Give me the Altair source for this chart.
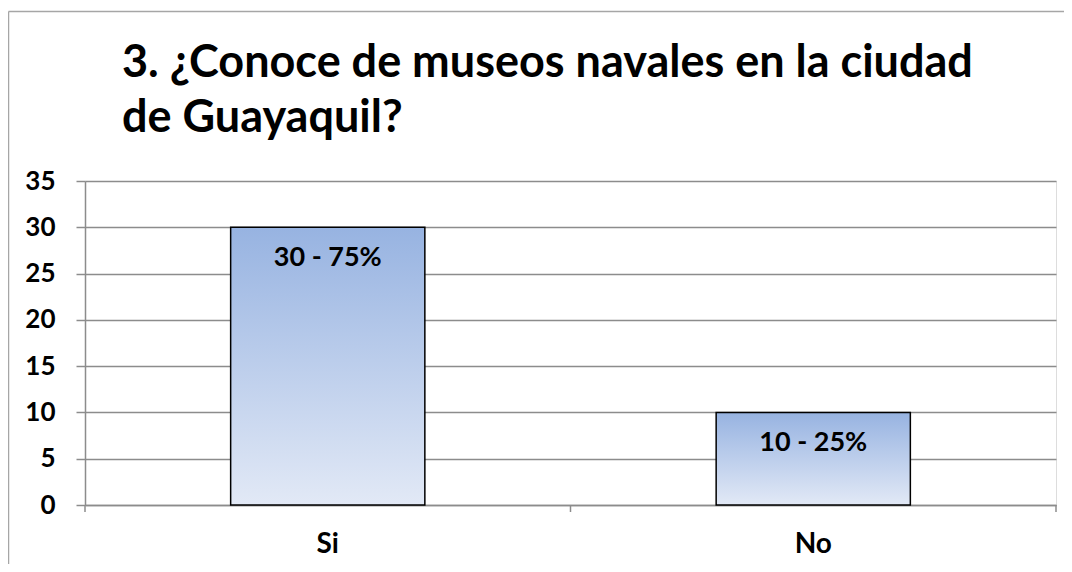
import altair as alt
import pandas as pd

categories = ["Si", "No"]
values = [30, 10]
labels = ["30 - 75%", "10 - 25%"]
title_lines = ["3. ¿Conoce de museos navales en la ciudad", "de Guayaquil?"]
y_ticks = [0, 5, 10, 15, 20, 25, 30, 35]
tick_positions = [0, 0.5, 1]

W, H = 971, 324
PAD = {"left": 77, "top": 173, "right": 8, "bottom": 59}

df = pd.DataFrame({"cat": categories, "val": values, "lab": labels})
GRAY = "#8c8c8c"
FONT = "Lato"

x_enc = alt.X("cat:N", sort=categories,
              scale=alt.Scale(paddingInner=0.6, paddingOuter=0.3),
              axis=alt.Axis(title=None, labelAngle=0, ticks=False, tickSize=0,
                            labelPadding=25, labelFont=FONT, labelFontSize=28,
                            labelFontWeight="bold", labelColor="black",
                            domainColor=GRAY, domainWidth=1.5, grid=False))
y_enc = alt.Y("val:Q", scale=alt.Scale(domain=[0, 35], nice=False),
              axis=alt.Axis(title=None, values=y_ticks, grid=True, gridColor=GRAY,
                            gridWidth=1.5, tickColor=GRAY, tickSize=9, tickWidth=1.5,
                            domainColor=GRAY, domainWidth=1.5, labelPadding=21,
                            labelFont=FONT, labelFontSize=26, labelFontWeight="bold",
                            labelColor="black"))

grad = alt.Gradient(gradient="linear",
                    stops=[alt.GradientStop(color="#97b3e1", offset=0),
                           alt.GradientStop(color="#e2e9f6", offset=1)],
                    x1=0, x2=0, y1=0, y2=1)

bars = alt.Chart(df).mark_bar(color=grad, stroke="black", strokeWidth=1.5).encode(
    x=x_enc, y=y_enc)

text = alt.Chart(df).mark_text(font=FONT, fontSize=27, fontWeight="bold",
                               color="black", baseline="middle", dy=31).encode(
    x=alt.X("cat:N", sort=categories), y="val:Q", text="lab:N")

main = alt.layer(bars, text)

ticks_df = pd.DataFrame({"p": tick_positions})
xticks = alt.Chart(ticks_df).mark_rule(color=GRAY, strokeWidth=1.5).encode(
    x=alt.X("p:Q", scale=alt.Scale(domain=[0, 1]), axis=None),
    y=alt.value(H), y2=alt.value(H + 7))

one = alt.Data(values=[{"a": 1}])
border_left = alt.Chart(one).mark_rule(color="#a6a6a6", strokeWidth=1.5).encode(
    x=alt.value(-76.5), y=alt.value(-169.5), y2=alt.value(H + PAD["bottom"]))
border_top = alt.Chart(one).mark_rule(color="#a6a6a6", strokeWidth=1.5).encode(
    x=alt.value(-76.5), x2=alt.value(W + PAD["right"]), y=alt.value(-169.5))

title_style = dict(font=FONT, fontSize=45, fontWeight="bold", color="black",
                   align="left", baseline="alphabetic")
title1 = alt.Chart(one).mark_text(**title_style).encode(
    x=alt.value(37), y=alt.value(-104), text=alt.value(title_lines[0]))
title2 = alt.Chart(one).mark_text(**title_style).encode(
    x=alt.value(37), y=alt.value(-49), text=alt.value(title_lines[1]))

chart = alt.layer(main, xticks, border_left, border_top, title1, title2).resolve_scale(
    x="independent").properties(
    width=W, height=H, padding=PAD,
    autosize=alt.AutoSizeParams(type="none"),
).configure_view(stroke=None).configure(background="white")

chart.save("out.html", embed_options={"renderer": "svg", "actions": False})
